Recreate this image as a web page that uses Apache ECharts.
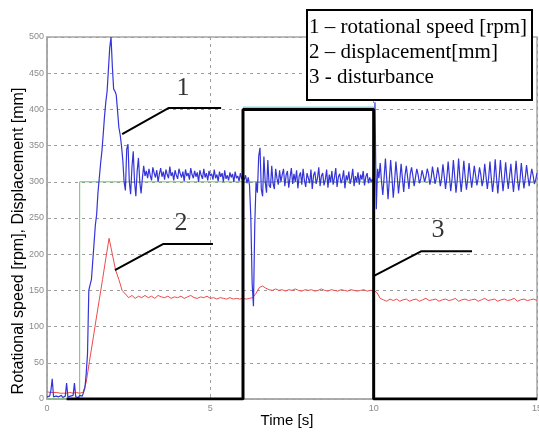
<!DOCTYPE html>
<html>
<head>
<meta charset="utf-8">
<script src="https://cdn.jsdelivr.net/npm/echarts@6/dist/echarts.min.js"></script>
<style>
  html, body { margin: 0; padding: 0; background: #fff; }
  #chart { width: 539px; height: 432px; }
</style>
</head>
<body>
<div id="chart"></div>
<script>
// Time axis and value axis ticks
const timeTicks = { min: 0, max: 15, step: 5 };
const valueTicks = { min: 0, max: 500, step: 50 };

// Rotational speed [rpm], sampled every 0.04 s, in four recorded stretches
const rpmStep = 0.04;
const rpmStart = { A: 0, B: 3.04, C: 6.04, D: 10.04 };
const rpmA = [
  3, 2, 4, 12, 28, 3, 2, 4, 2, 3,
  3, 5, 2, 3, 4, 22, 3, 2, 4, 3,
  5, 22, 3, 4, 2, 5, 3, 4, 6, 15,
  35, 62, 150, 158, 165, 190, 215, 240, 255, 285,
  305, 325, 342, 365, 390, 410, 425, 455, 485, 500,
  460, 428, 425, 420, 398, 375, 365, 350, 330, 300,
  288, 345, 352, 300, 283, 320, 342, 300, 280, 315,
  333, 300, 284, 305, 322,
  308
];
const rpmB = [
  315, 305, 318, 309, 302, 320, 312, 306, 316, 300,
  311, 319, 307, 314, 303, 317, 310, 305, 321, 308,
  313, 302, 316, 309, 304, 318, 311, 306, 314, 301,
  317, 308, 312, 303, 319, 310, 305, 315, 307, 313,
  300, 316, 309, 304, 318, 306, 312, 302, 315, 308,
  311, 303, 317, 305, 310, 301, 314, 307, 312, 300,
  316, 304, 309, 302, 313, 306, 311, 300, 314, 305,
  308, 301, 312, 304, 306
];
const rpmC = [
  303, 309, 298, 306, 295, 250, 160, 128, 240, 300,
  285, 335, 347, 290, 280, 335, 300, 285, 330, 295,
  292, 322, 298, 290, 318, 305, 296, 316, 300, 310,
  318, 294, 309, 315, 292, 306, 319, 297, 311, 300,
  316, 291, 308, 313, 296, 318, 302, 293, 312, 305,
  298, 317, 290, 309, 314, 297, 305, 320, 294, 308,
  312, 295, 303, 317, 292, 310, 299, 315, 296, 306,
  319, 293, 307, 311, 298, 304, 316, 291, 309, 302,
  314, 297, 305, 318, 294, 308, 300, 313, 296, 310,
  303, 315, 295, 307, 312, 298, 306, 300, 304, 300
];
const rpmD = [
  410, 262, 318, 305, 326, 300, 282, 306, 332, 304,
  276, 303, 330, 306, 278, 300, 328, 308, 284, 302,
  325, 305, 286, 309, 322, 306, 290, 311, 320, 308,
  294, 306, 318, 310, 298, 304, 316, 309, 300, 307,
  318, 311, 296, 305, 321, 310, 297, 306, 320, 309,
  294, 305, 324, 308, 290, 306, 328, 307, 287, 304,
  330, 308, 285, 303, 332, 306, 286, 305, 329, 307,
  289, 304, 326, 308, 292, 306, 322, 309, 295, 305,
  320, 310, 294, 304, 325, 307, 290, 306, 328, 305,
  286, 303, 331, 306, 284, 305, 330, 307, 287, 304,
  327, 306, 290, 308, 325, 304, 286, 306, 329, 305,
  288, 303, 326, 307, 291, 305, 323, 308, 294, 306,
  318, 309, 297, 303, 312
];

// Displacement [mm], sampled every 0.1 s from 0 s
const dispStep = 0.1;
const dispValues = [
  10, 9, 9, 9, 8, 8, 8, 9, 8, 9,
  8, 9, 23, 52, 80, 109, 137, 165, 194, 222,
  200, 178, 165, 150, 145, 140, 143, 139, 142, 140,
  143, 140, 142, 139, 143, 141, 140, 142, 139, 141,
  140, 142, 139, 141, 143, 140, 139, 141, 140, 142,
  139, 140, 138, 140, 139, 138, 140, 138, 139, 138,
  139, 138, 139, 140, 146, 154, 156, 153, 151, 150,
  152, 150, 151, 149, 151, 150, 152, 150, 149, 151,
  150, 151, 149, 150, 152, 150, 149, 151, 150, 149,
  151, 150, 149, 151, 150, 149, 150, 151, 149, 150,
  150, 147, 139, 137, 135, 138, 136, 138, 135, 137,
  138, 135, 137, 138, 135, 137, 139, 136, 137, 138,
  135, 137, 138, 136, 137, 139, 135, 137, 138, 136,
  137, 138, 135, 137, 139, 136, 137, 138, 135, 137,
  138, 136, 137, 139, 135, 137, 138, 136, 137, 138,
  136
];

// Speed set point [rpm] (step at 1 s)
const setpointT = [0, 1, 1, 15];
const setpointV = [0, 0, 300, 300];

// Disturbance signal: raw trace and the emphasised pulse
const disturbRawT = [6, 10];
const disturbRawV = [403, 403];
const disturbT = [0.6, 6, 6, 10, 10, 15];
const disturbV = [0, 0, 400, 400, 0, 0];

// Numbered callouts: anchor on the curve, elbow, end of the shelf, label spot
const calloutNames = ['1', '2', '3'];
const calloutLines = [
  [[2.30, 366], [3.73, 402], [5.33, 402]],
  [[2.08, 178], [3.55, 214], [5.08, 214]],
  [[10.01, 170], [11.45, 204], [13.01, 204]]
];
const calloutLabelPos = [[4.16, 430], [4.10, 243], [11.97, 233]];

// Key text
const keyLines = ['1 \u2013 rotational speed [rpm]', '2 \u2013 displacement[mm]', '3 - disturbance'];
const xTitle = 'Time [s]';
const yTitle = 'Rotational speed [rpm], Displacement [mm]';

function sampled(start, step, values) {
  return values.map((v, i) => [Math.round((start + i * step) * 1000) / 1000, v]);
}
function paired(ts, vs) {
  return ts.map((t, i) => [t, vs[i]]);
}

const rpmData = []
  .concat(sampled(rpmStart.A, rpmStep, rpmA))
  .concat(sampled(rpmStart.B, rpmStep, rpmB))
  .concat(sampled(rpmStart.C, rpmStep, rpmC))
  .concat(sampled(rpmStart.D, rpmStep, rpmD));
const dispData = sampled(0, dispStep, dispValues);

const chart = echarts.init(document.getElementById('chart'), null, { renderer: 'canvas' });

const axisLabelStyle = { color: '#8a8a8a', fontSize: 9, fontFamily: 'Liberation Sans, Arial, sans-serif' };
const gridLine = { show: true, lineStyle: { color: '#9c9c9c', width: 1, type: [3, 4] } };

const series = [
  {
    name: 'setpoint', type: 'line', data: paired(setpointT, setpointV),
    symbol: 'none', lineStyle: { color: '#6cc46c', width: 1 }, z: 2, silent: true
  },
  {
    name: 'disturbance raw', type: 'line', data: paired(disturbRawT, disturbRawV),
    symbol: 'none', lineStyle: { color: '#86d6e6', width: 1.5 }, z: 2, silent: true
  },
  {
    name: 'displacement', type: 'line', data: dispData,
    symbol: 'none', lineStyle: { color: '#ee4a4a', width: 1 }, z: 3, silent: true
  },
  {
    name: 'rotational speed', type: 'line', data: rpmData,
    symbol: 'none', lineStyle: { color: '#3434d8', width: 1.2 }, z: 4, silent: true
  },
  {
    name: 'disturbance', type: 'line', data: paired(disturbT, disturbV),
    symbol: 'none', lineStyle: { color: '#000', width: 3 }, z: 5, silent: true
  }
];

calloutLines.forEach((pts, k) => {
  series.push({
    name: 'callout ' + calloutNames[k], type: 'line', data: pts,
    symbol: 'none', lineStyle: { color: '#000', width: 2 }, z: 6, silent: true
  });
});

series.push({
  name: 'callout labels', type: 'scatter', symbolSize: 0, z: 7, silent: true,
  data: calloutLabelPos.map((p, k) => ({ value: p, name: calloutNames[k] })),
  label: {
    show: true, position: 'inside', formatter: '{b}',
    color: '#000', fontSize: 26, fontFamily: 'Liberation Serif, Times New Roman, serif'
  }
});

chart.setOption({
  animation: false,
  backgroundColor: '#fff',
  grid: {
    left: 47, right: 2, top: 37, bottom: 33,
    outerBoundsMode: 'none', containLabel: false,
    show: true, borderColor: '#a6a6a6', borderWidth: 1.5, backgroundColor: '#fff'
  },
  xAxis: {
    type: 'value', min: timeTicks.min, max: timeTicks.max, interval: timeTicks.step,
    axisLine: { show: true, lineStyle: { color: '#a6a6a6', width: 1.5 } },
    axisTick: { show: true, inside: true, length: 4, lineStyle: { color: '#a6a6a6' } },
    axisLabel: Object.assign({ margin: 5, hideOverlap: false }, axisLabelStyle),
    splitLine: gridLine
  },
  yAxis: {
    type: 'value', min: valueTicks.min, max: valueTicks.max, interval: valueTicks.step,
    axisLine: { show: true, lineStyle: { color: '#a6a6a6', width: 1.5 } },
    axisTick: { show: true, inside: true, length: 4, lineStyle: { color: '#a6a6a6' } },
    axisLabel: Object.assign({ margin: 3 }, axisLabelStyle),
    splitLine: gridLine
  },
  series: series,
  graphic: [
    {
      type: 'text', x: 19, y: 241, rotation: Math.PI / 2, z: 10,
      style: {
        text: yTitle, fill: '#000', fontSize: 16,
        fontFamily: 'Liberation Sans, Arial, sans-serif',
        textAlign: 'center', textVerticalAlign: 'middle'
      }
    },
    {
      type: 'text', x: 287, y: 421, z: 10,
      style: {
        text: xTitle, fill: '#000', fontSize: 15,
        fontFamily: 'Liberation Sans, Arial, sans-serif',
        textAlign: 'center', textVerticalAlign: 'middle'
      }
    },
    {
      type: 'group', x: 307, y: 10, z: 20,
      children: [
        {
          type: 'rect', shape: { x: 0, y: 0, width: 225, height: 90 },
          style: { fill: '#fff', stroke: '#000', lineWidth: 2 }, z: 20
        }
      ].concat(keyLines.map((s, k) => ({
        type: 'text', x: 2, y: 17 + k * 25, z: 21,
        style: {
          text: s, fill: '#000', fontSize: 21,
          fontFamily: 'Liberation Serif, Times New Roman, serif',
          textAlign: 'left', textVerticalAlign: 'middle'
        }
      })))
    }
  ]
});
</script>
</body>
</html>
